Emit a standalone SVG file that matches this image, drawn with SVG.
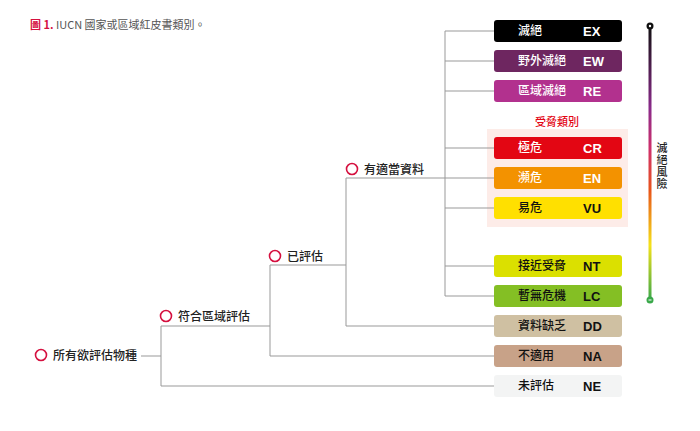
<svg xmlns="http://www.w3.org/2000/svg" width="700" height="431" viewBox="0 0 700 431">
<style>
text{font-family:"Noto Sans CJK TC","Liberation Sans",sans-serif}
.l{font-size:12px;fill:#fff;font-weight:500}
.d{fill:#111}
.c{font-family:"Liberation Sans","Noto Sans CJK TC",sans-serif;font-weight:bold;font-size:13px}
.n{font-size:12px;fill:#222;font-weight:500}
.ring{fill:none;stroke:#d5103f;stroke-width:1.6}
.con line{stroke:#999;stroke-width:1}
</style>
<defs>
<linearGradient id="g" x1="0" y1="0" x2="0" y2="1">
<stop offset="0" stop-color="#111"/><stop offset="0.3" stop-color="#8a2a8a"/><stop offset="0.45" stop-color="#d0306a"/><stop offset="0.6" stop-color="#e8541a"/><stop offset="0.8" stop-color="#f5e21a"/><stop offset="1" stop-color="#3aa84a"/>
</linearGradient>
</defs>
<rect width="700" height="431" fill="#fff"/>
<text x="30" y="29" font-size="11" fill="#555"><tspan fill="#d5103f" font-weight="bold">圖 1.</tspan> IUCN 國家或區域紅皮書類別。</text>
<rect x="487" y="129" width="141" height="98" fill="#fdece8"/>
<text x="557" y="126" font-size="11" fill="#e30613" font-weight="500" text-anchor="middle">受脅類別</text>
<g class="con">
<line x1="445" y1="31" x2="445" y2="296"/>
<line x1="445" y1="31" x2="494" y2="31"/><line x1="445" y1="61" x2="494" y2="61"/><line x1="445" y1="91" x2="494" y2="91"/>
<line x1="445" y1="148" x2="494" y2="148"/><line x1="445" y1="178" x2="494" y2="178"/><line x1="445" y1="208" x2="494" y2="208"/>
<line x1="445" y1="266" x2="494" y2="266"/><line x1="445" y1="296" x2="494" y2="296"/>
<line x1="346" y1="178" x2="445" y2="178"/><line x1="346" y1="178" x2="346" y2="326"/><line x1="346" y1="326" x2="494" y2="326"/>
<line x1="270" y1="265" x2="346" y2="265"/><line x1="270" y1="265" x2="270" y2="356"/><line x1="270" y1="356" x2="494" y2="356"/>
<line x1="161" y1="326" x2="270" y2="326"/><line x1="161" y1="326" x2="161" y2="386"/><line x1="161" y1="386" x2="494" y2="386"/>
<line x1="141" y1="356" x2="161" y2="356"/>
</g>
<g id="all"><circle class="ring" cx="41" cy="355" r="5.5"/><text class="n" x="53" y="360">所有欲評估物種</text></g>
<g id="regional"><circle class="ring" cx="166" cy="316" r="5.5"/><text class="n" x="178" y="321">符合區域評估</text></g>
<g id="evaluated"><circle class="ring" cx="275" cy="256" r="5.5"/><text class="n" x="287" y="261">已評估</text></g>
<g id="adequate"><circle class="ring" cx="352" cy="169" r="5.5"/><text class="n" x="364" y="174">有適當資料</text></g>
<g id="EX"><rect x="494" y="20" width="128" height="22" rx="3" fill="#000"/><text class="l" x="518" y="35">滅絕</text><text class="l c" x="583" y="36">EX</text></g>
<g id="EW"><rect x="494" y="50" width="128" height="22" rx="3" fill="#6e2660"/><text class="l" x="518" y="65">野外滅絕</text><text class="l c" x="583" y="66">EW</text></g>
<g id="RE"><rect x="494" y="80" width="128" height="22" rx="3" fill="#b2318e"/><text class="l" x="518" y="95">區域滅絕</text><text class="l c" x="583" y="96">RE</text></g>
<g id="CR"><rect x="494" y="137" width="128" height="22" rx="3" fill="#e30613"/><text class="l" x="518" y="152">極危</text><text class="l c" x="583" y="153">CR</text></g>
<g id="EN"><rect x="494" y="167" width="128" height="22" rx="3" fill="#f39200"/><text class="l" x="518" y="182">瀕危</text><text class="l c" x="583" y="183">EN</text></g>
<g id="VU"><rect x="494" y="197" width="128" height="22" rx="3" fill="#ffe000"/><text class="l d" x="518" y="212">易危</text><text class="l c d" x="583" y="213">VU</text></g>
<g id="NT"><rect x="494" y="255" width="128" height="22" rx="3" fill="#dbe000"/><text class="l d" x="518" y="270">接近受脅</text><text class="l c d" x="583" y="271">NT</text></g>
<g id="LC"><rect x="494" y="285" width="128" height="22" rx="3" fill="#84bf24"/><text class="l d" x="518" y="300">暫無危機</text><text class="l c d" x="583" y="301">LC</text></g>
<g id="DD"><rect x="494" y="315" width="128" height="22" rx="3" fill="#cfc0a2"/><text class="l d" x="518" y="330">資料缺乏</text><text class="l c d" x="583" y="331">DD</text></g>
<g id="NA"><rect x="494" y="345" width="128" height="22" rx="3" fill="#c8a288"/><text class="l d" x="518" y="360">不適用</text><text class="l c d" x="583" y="361">NA</text></g>
<g id="NE"><rect x="494" y="375" width="128" height="22" rx="3" fill="#f3f4f4"/><text class="l d" x="518" y="390">未評估</text><text class="l c d" x="583" y="391">NE</text></g>
<g id="risk">
<rect x="648.5" y="26" width="3" height="274" fill="url(#g)"/>
<circle cx="650" cy="26" r="3.5" fill="#111"/><circle cx="650" cy="26" r="1.2" fill="#fff"/>
<circle cx="650" cy="300" r="3.5" fill="#3aa84a"/><rect x="648.5" y="299.5" width="3" height="1" fill="#fff"/>
<text x="662" y="142" font-size="11" fill="#222" font-weight="500" style="writing-mode:vertical-rl" letter-spacing="1">滅絕風險</text>
</g>
</svg>
